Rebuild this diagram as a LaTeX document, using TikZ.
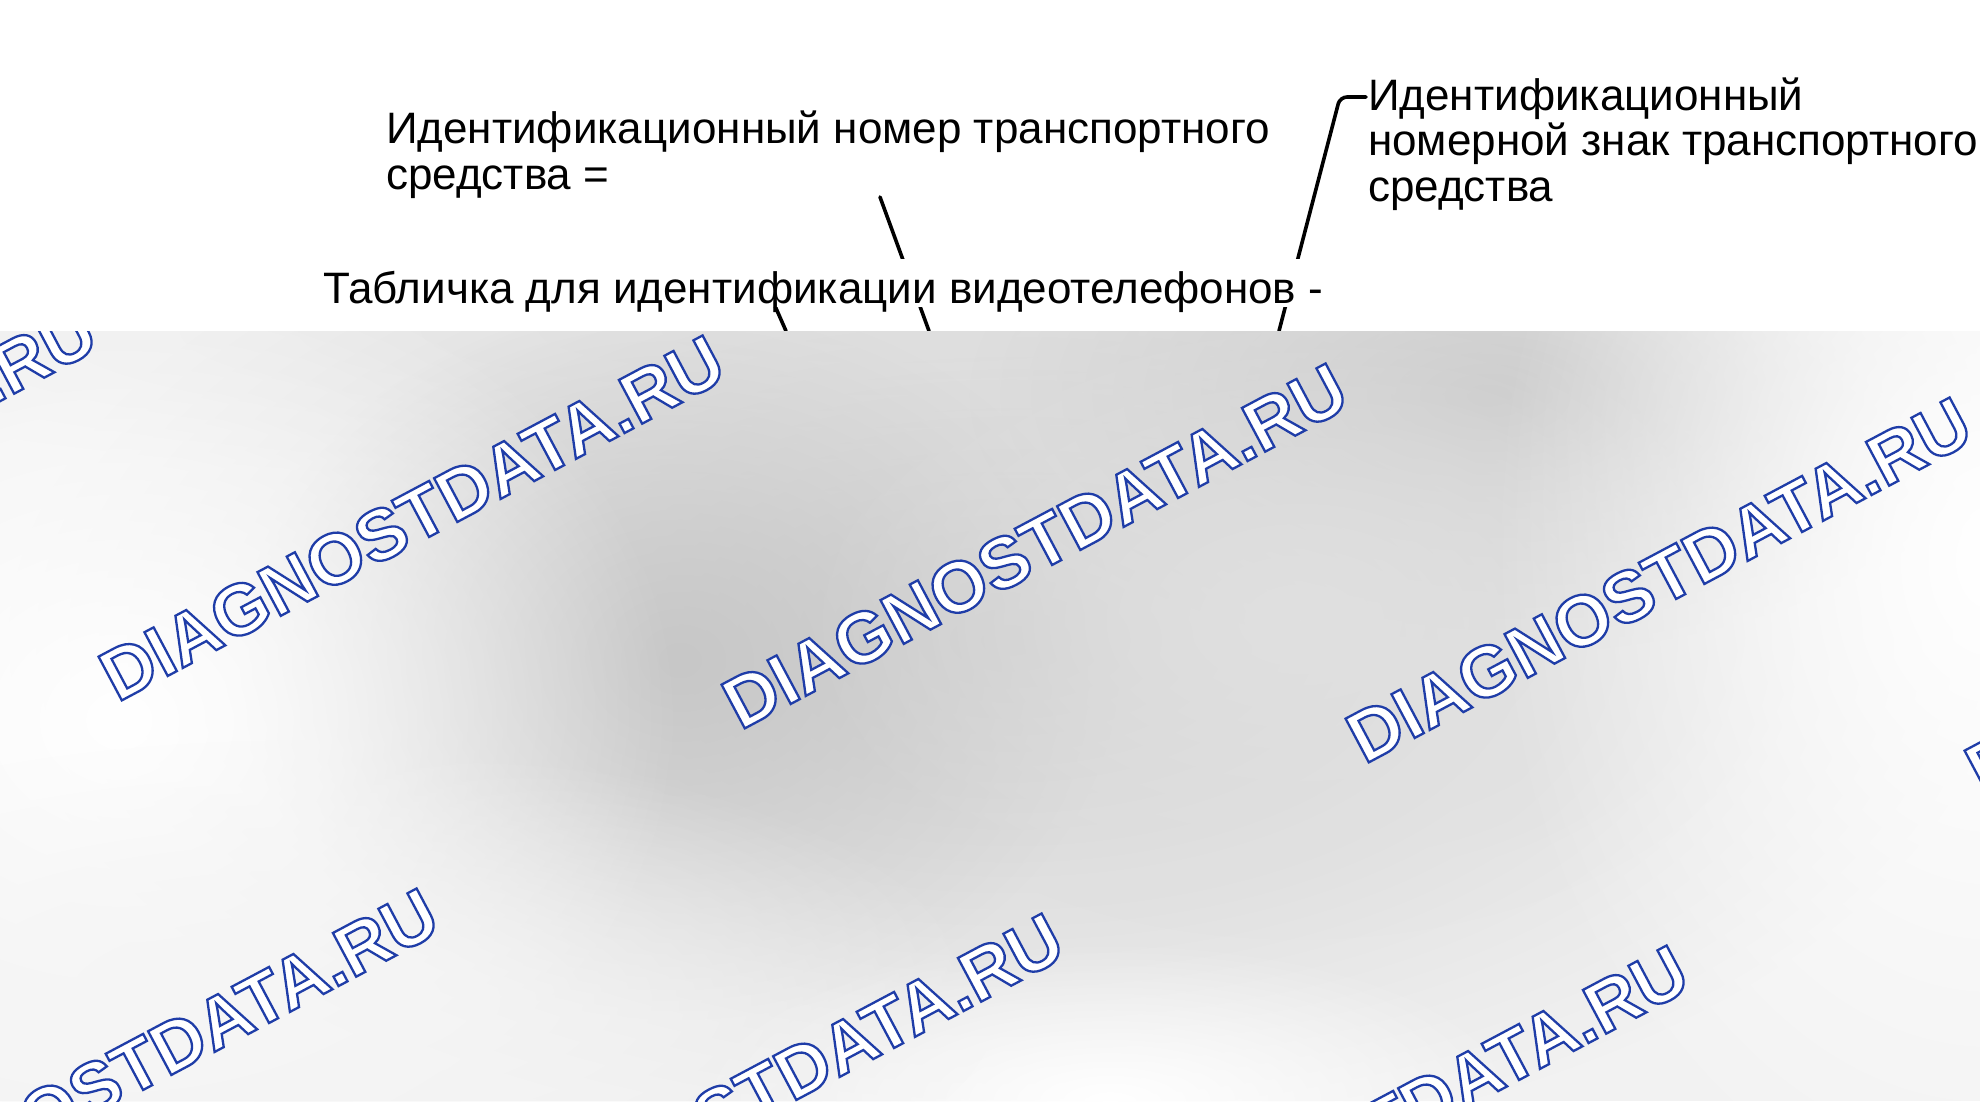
\documentclass[tikz,border=0pt]{standalone}
\usepackage{fontspec}
\setmainfont{Liberation Sans}
\newfontfamily\wmfont{Liberation Sans}
\usetikzlibrary{fadings,calc}
\tikzfading[name=blob, inner color=transparent!0, outer color=transparent!100]
\newcommand{\wmtext}{{\color{white}\special{pdf:literal direct 2 Tr 2.3 w 0.12 0.24 0.66 RG}DIAGNOSTDATA.RU}}
\tikzset{
  lbl/.style={font=\fontsize{44}{45.5}\selectfont, inner sep=0pt, align=left, text=black},
  lead/.style={draw=black, line width=3.6pt, line cap=round, rounded corners=7pt},
  wm/.style={font=\wmfont\bfseries\fontsize{72}{72}\selectfont, inner sep=0pt, rotate=28},
  blobfill/.style={path fading=blob}
}
\begin{document}
\begin{tikzpicture}[x=1pt,y=-1pt]
\useasboundingbox (0,0) rectangle (1980,1101);
\fill[white] (0,0) rectangle (1980,1101);

% text labels
\node[lbl, anchor=base west] (vin) at (386,189) {Идентификационный номер транспортного\\средства =};
\node[lbl, anchor=base west] (plate) at (1368,201) {Идентификационный\\номерной знак транспортного\\средства};

% leader endpoints at top of photo
\coordinate (p1) at (929,331);
\coordinate (p2) at (786,331);
\coordinate (p3) at (1279,331);
\coordinate (p3c) at (1340,97);
\coordinate (v1) at (880,197);
\coordinate (t1) at (768,290);

\draw[lead] (v1) -- (p1);
\draw[lead] (t1) -- (p2);
\draw[lead] ($(plate.base west)+(-2,-104)$) -- (p3c) -- (p3);

\node[lbl, anchor=base west, fill=white, text height=40pt, text depth=0pt, inner ysep=4pt, inner xsep=0pt] (tab) at (323,303) {Табличка для идентификации видеотелефонов -};

% photo area
\begin{scope}
\clip (0,331) rectangle (1980,1101);
\fill[black!5] (0,331) rectangle (1980,1101);
\fill[black!9, blobfill] (900,331) ellipse [x radius=1200, y radius=160];
\fill[black!18, blobfill] (1010,640) ellipse [x radius=1000, y radius=520];
\fill[black!22, blobfill] (680,660) ellipse [x radius=440, y radius=360];
\fill[black!20, blobfill] (1490,395) ellipse [x radius=520, y radius=260];
\fill[black!12, blobfill] (1300,620) ellipse [x radius=500, y radius=320];
\fill[white, blobfill] (1990,560) ellipse [x radius=500, y radius=700];
\fill[white, blobfill] (120,720) ellipse [x radius=560, y radius=480];
\fill[white, blobfill] (1110,1101) ellipse [x radius=420, y radius=160];
\fill[black!4, blobfill] (300,1000) ellipse [x radius=700, y radius=260];

\node[wm] (w0) at (-216,488) {\wmtext};
\node[wm] (w1) at (412,518) {\wmtext};
\node[wm] (w2) at (1035,546) {\wmtext};
\node[wm] (w3) at (1659,580) {\wmtext};
\node[wm] (w4) at (2278,612) {\wmtext};
\node[wm] (w5) at (126,1071) {\wmtext};
\node[wm] (w6) at (751,1096) {\wmtext};
\node[wm] (w7) at (1376,1128) {\wmtext};
\end{scope}
\end{tikzpicture}
\end{document}
